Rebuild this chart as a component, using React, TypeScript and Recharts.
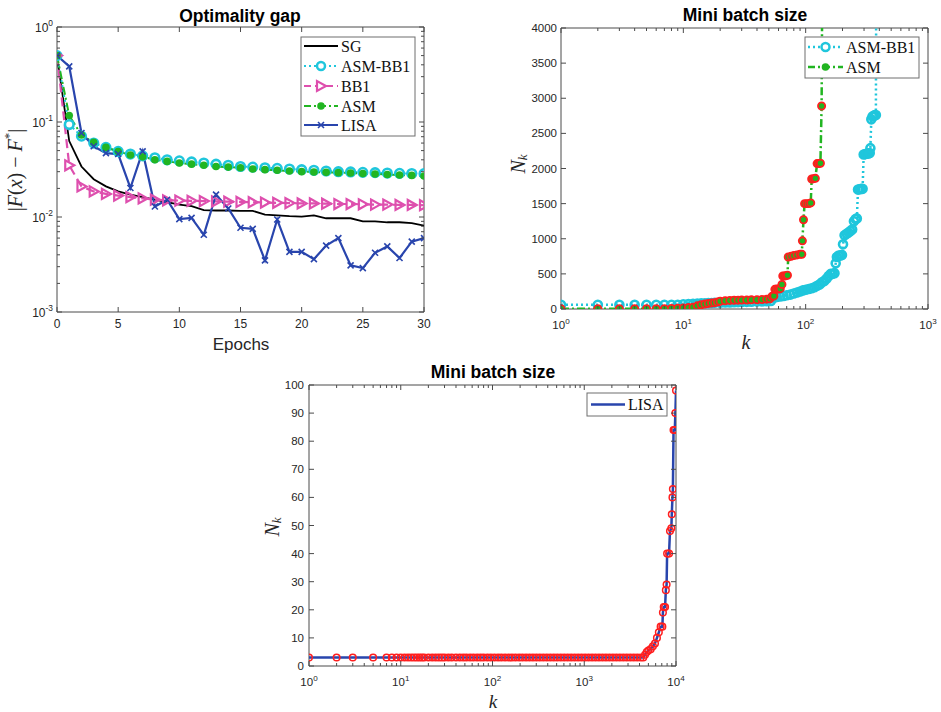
import React from 'react';
import { LineChart, Line, XAxis, YAxis, ReferenceArea } from 'recharts';

const SANS = '"Liberation Sans", Arial, Helvetica, sans-serif';
const SERIF = '"Liberation Serif", "Times New Roman", serif';
const AXIS = '#4a4a4a';
const TXT = '#262626';

const C_SG = '#000000';
const C_CYAN = '#1fc6dc';
const C_PINK = '#de4fae';
const C_GREEN = '#22b522';
const C_BLUE = '#2945ad';
const C_RED = '#ff1f1f';

// ---------- Panel 1: optimality gap ----------
const epochs = [0, 1, 2, 3, 4, 5, 6, 7, 8, 9, 10, 11, 12, 13, 14, 15, 16, 17, 18, 19, 20, 21, 22, 23, 24, 25, 26, 27, 28, 29, 30];
const sgGap = [0.49, 0.063, 0.034, 0.025, 0.021, 0.0186, 0.0172, 0.0162, 0.0152, 0.0143, 0.0135, 0.013, 0.0118, 0.0117, 0.0117, 0.0116, 0.0116, 0.0106, 0.0104, 0.0102, 0.0101, 0.0104, 0.0097, 0.0097, 0.0097, 0.009, 0.009, 0.0088, 0.0088, 0.0086, 0.0081];
const asmBb1Gap = [0.5, 0.094, 0.071, 0.06, 0.054, 0.049, 0.046, 0.044, 0.042, 0.04, 0.039, 0.038, 0.037, 0.036, 0.035, 0.034, 0.0335, 0.033, 0.0325, 0.032, 0.0315, 0.031, 0.0305, 0.03, 0.0298, 0.0295, 0.0293, 0.029, 0.0288, 0.0287, 0.0286];
const bb1Gap = [0.5, 0.035, 0.021, 0.0186, 0.0175, 0.0168, 0.0162, 0.0157, 0.0152, 0.015, 0.0149, 0.0148, 0.0147, 0.0146, 0.0145, 0.0144, 0.0143, 0.0142, 0.0141, 0.014, 0.0139, 0.0139, 0.0138, 0.0137, 0.0137, 0.0136, 0.0135, 0.0135, 0.0134, 0.0134, 0.0133];
const asmGap = [0.5, 0.117, 0.073, 0.061, 0.054, 0.049, 0.045, 0.043, 0.04, 0.0385, 0.037, 0.036, 0.035, 0.034, 0.0335, 0.033, 0.032, 0.0315, 0.031, 0.0305, 0.03, 0.0298, 0.0295, 0.0293, 0.029, 0.0287, 0.0284, 0.028, 0.0277, 0.0274, 0.027];
const lisaGap = [0.5, 0.385, 0.0766, 0.0555, 0.047, 0.046, 0.0202, 0.049, 0.0129, 0.0152, 0.0095, 0.0098, 0.0065, 0.0172, 0.0123, 0.0077, 0.0075, 0.0035, 0.0094, 0.0043, 0.0043, 0.0036, 0.005, 0.006, 0.0031, 0.0029, 0.0042, 0.0049, 0.0037, 0.0055, 0.006];
const epochTicks = [0, 5, 10, 15, 20, 25, 30];
const gapDecades = [0.001, 0.01, 0.1, 1];

// ---------- Panel 2: mini batch size (ASM-BB1, ASM) ----------
const bb1K = [1, 2, 3, 4, 5, 6, 7, 8, 9, 10, 11, 12, 13, 14, 15, 16, 17, 18, 20, 22, 24, 26, 28, 30, 33, 36, 40, 44, 48, 52, 55, 58, 62, 66, 70, 75, 80, 85, 90, 95, 100, 106, 112, 118, 124, 130, 136, 142, 148, 154, 160, 166, 172, 176, 180, 186, 192, 198, 202, 208, 216, 224, 232, 240, 248, 256, 262, 268, 276, 284, 292, 298, 306, 316, 326, 334, 338, 344, 352, 360, 368, 375, 378];
const bb1N = [60, 60, 60, 60, 60, 60, 60, 60, 60, 68, 72, 75, 78, 80, 82, 84, 86, 88, 90, 92, 94, 96, 98, 100, 102, 104, 106, 108, 110, 115, 160, 170, 178, 185, 195, 205, 220, 235, 250, 265, 275, 285, 295, 310, 330, 350, 380, 400, 430, 470, 500, 500, 510, 650, 740, 760, 760, 770, 920, 1050, 1070, 1090, 1110, 1130, 1250, 1280, 1290, 1700, 1705, 1710, 1710, 2200, 2205, 2210, 2215, 2220, 2290, 2700, 2740, 2750, 2760, 2760, 5000];
const asmK = [1, 2, 3, 4, 5, 6, 7, 8, 9, 10, 11, 12, 13, 14, 15, 16, 17, 18, 19, 20, 22, 24, 26, 28, 30, 33, 36, 40, 44, 48, 51, 53, 55, 56, 58, 60, 62, 64, 65, 67, 69, 71, 72, 76, 80, 85, 90, 93, 94, 96, 98, 102, 106, 110, 112, 116, 120, 124, 128, 132, 135, 137];
const asmN = [5, 5, 5, 5, 5, 5, 5, 8, 10, 15, 20, 25, 45, 60, 70, 80, 85, 90, 100, 110, 118, 122, 125, 126, 127, 128, 130, 132, 135, 140, 145, 180, 185, 280, 285, 285, 290, 350, 470, 470, 475, 480, 740, 750, 760, 770, 780, 780, 970, 1270, 1500, 1500, 1500, 1510, 1850, 1855, 1860, 2070, 2070, 2075, 2890, 5000];
const batchTicks = [0, 500, 1000, 1500, 2000, 2500, 3000, 3500, 4000];
const kDecades2 = [1, 10, 100, 1000];

// ---------- Panel 3: mini batch size (LISA) ----------
const lisaK = [1, 2, 3, 5, 7, 8, 9, 10, 11, 12, 13, 14, 15, 16, 17, 18, 20, 22, 24, 26, 28, 30, 33, 36, 40, 44, 48, 52, 57, 62, 68, 74, 80, 88, 96, 105, 115, 125, 137, 150, 163, 178, 195, 212, 232, 253, 276, 301, 328, 358, 391, 427, 466, 508, 555, 605, 660, 720, 786, 858, 936, 1021, 1114, 1216, 1327, 1448, 1580, 1724, 1881, 2053, 2240, 2444, 2667, 2910, 3175, 3465, 3781, 4126, 4400, 4600, 4800, 5000, 5300, 5600, 5900, 6200, 6500, 6800, 7100, 7200, 7350, 7600, 7750, 7900, 8000, 8400, 8600, 8900, 9000, 9150, 9250, 9400, 9700, 9850, 10000];
const lisaN = [3, 3, 3, 3, 3, 3, 3, 3, 3, 3, 3, 3, 3, 3, 3, 3, 3, 3, 3, 3, 3, 3, 3, 3, 3, 3, 3, 3, 3, 3, 3, 3, 3, 3, 3, 3, 3, 3, 3, 3, 3, 3, 3, 3, 3, 3, 3, 3, 3, 3, 3, 3, 3, 3, 3, 3, 3, 3, 3, 3, 3, 3, 3, 3, 3, 3, 3, 3, 3, 3, 3, 3, 3, 3, 3, 3, 3, 3, 3, 4, 5, 5.5, 6, 7, 8, 10, 12, 14, 14, 19, 21, 21, 27, 29, 40, 40, 48, 49, 54, 60, 63, 84, 84, 90, 98];
const lisaTicks = [0, 10, 20, 30, 40, 50, 60, 70, 80, 90, 100];
const kDecades3 = [1, 10, 100, 1000, 10000];

// ---------- helpers ----------
const withMinors = (decades: number[]) => {
  const out: number[] = [];
  for (let i = 0; i < decades.length - 1; i++) {
    for (let m = 1; m < 10; m++) out.push(decades[i] * m);
  }
  out.push(decades[decades.length - 1]);
  return out;
};
const isPow10 = (v: number) => v > 0 && Math.abs(Math.log10(v) - Math.round(Math.log10(v))) < 1e-6;

function Pow10Label({ x, y, v, fs, anchor }: any) {
  const e = Math.round(Math.log10(v));
  return (
    <text x={x} y={y} textAnchor={anchor} fontFamily={SANS} fontSize={fs} fill={TXT}>
      <tspan>10</tspan>
      <tspan dy={-fs * 0.45} fontSize={fs * 0.7}>{String(e)}</tspan>
    </text>
  );
}

const makeXTick = (o: { top: number; log: boolean; fs: number; dy: number }) => (p: any) => {
  const { x, y, payload } = p;
  const v = payload.value;
  const major = o.log ? isPow10(v) : true;
  const len = major ? 5 : 3;
  return (
    <g key={`xt-${v}`}>
      <line x1={x} x2={x} y1={y} y2={y - len} stroke={AXIS} strokeWidth={1} />
      <line x1={x} x2={x} y1={o.top} y2={o.top + len} stroke={AXIS} strokeWidth={1} />
      {major &&
        (o.log ? (
          <Pow10Label x={x} y={y + o.dy} v={v} fs={o.fs} anchor="middle" />
        ) : (
          <text x={x} y={y + o.dy} textAnchor="middle" fontFamily={SANS} fontSize={o.fs} fill={TXT}>
            {v}
          </text>
        ))}
    </g>
  );
};

const makeYTick = (o: { right: number; log: boolean; fs: number; dx: number; dy: number }) => (p: any) => {
  const { x, y, payload } = p;
  const v = payload.value;
  const major = o.log ? isPow10(v) : true;
  const len = major ? 5 : 3;
  return (
    <g key={`yt-${v}`}>
      <line x1={x} x2={x + len} y1={y} y2={y} stroke={AXIS} strokeWidth={1} />
      <line x1={o.right} x2={o.right - len} y1={y} y2={y} stroke={AXIS} strokeWidth={1} />
      {major &&
        (o.log ? (
          <Pow10Label x={x + o.dx} y={y + o.dy} v={v} fs={o.fs} anchor="end" />
        ) : (
          <text x={x + o.dx} y={y + o.dy} textAnchor="end" fontFamily={SANS} fontSize={o.fs} fill={TXT}>
            {v}
          </text>
        ))}
    </g>
  );
};

// markers
const circleDot = (stroke: string, r: number, sw: number, fill = 'none') => (p: any) =>
  p.cx == null || p.cy == null ? <g key={`e${p.index}`} /> : (
    <circle key={`c${p.index}`} cx={p.cx} cy={p.cy} r={r} fill={fill} stroke={stroke} strokeWidth={sw} />
  );
const triDot = (color: string) => (p: any) =>
  p.cx == null || p.cy == null ? <g key={`e${p.index}`} /> : (
    <polygon
      key={`t${p.index}`}
      points={`${p.cx - 4},${p.cy - 5} ${p.cx - 4},${p.cy + 5} ${p.cx + 5},${p.cy}`}
      fill="none"
      stroke={color}
      strokeWidth={2.2}
    />
  );
const xDot = (color: string) => (p: any) =>
  p.cx == null || p.cy == null ? <g key={`e${p.index}`} /> : (
    <path
      key={`x${p.index}`}
      d={`M${p.cx - 3},${p.cy - 3}L${p.cx + 3},${p.cy + 3}M${p.cx - 3},${p.cy + 3}L${p.cx + 3},${p.cy - 3}`}
      stroke={color}
      strokeWidth={1.6}
    />
  );

// ---------- data tables ----------
const gapData = epochs.map((e, i) => ({
  x: e,
  sg: sgGap[i],
  asmbb1: asmBb1Gap[i],
  bb1: bb1Gap[i],
  asm: asmGap[i],
  lisa: lisaGap[i],
}));
const bb1Data = bb1K.map((k, i) => ({ k, n: bb1N[i] }));
const asmData = asmK.map((k, i) => ({ k, n: asmN[i] }));
const lisaData = lisaK.map((k, i) => ({ k, n: lisaN[i] }));

// ---------- legend helper ----------
type LegItem = { label: string; color: string; dash?: string; sw: number; marker: string; y: number };
function Legend({ x, y, w, h, lx1, lx2, tx, items }: { x: number; y: number; w: number; h: number; lx1: number; lx2: number; tx: number; items: LegItem[] }) {
  const mx = (lx1 + lx2) / 2;
  return (
    <g>
      <rect x={x} y={y} width={w} height={h} fill="#fff" stroke="#6e6e6e" strokeWidth={1} />
      {items.map((it) => (
        <g key={it.label}>
          <line x1={lx1} x2={lx2} y1={it.y} y2={it.y} stroke={it.color} strokeWidth={it.sw} strokeDasharray={it.dash} />
          {it.marker === 'circleOpen' && <circle cx={mx} cy={it.y} r={4} fill="#fff" stroke={it.color} strokeWidth={2.5} />}
          {it.marker === 'circleFill' && <circle cx={mx} cy={it.y} r={3.8} fill={it.color} />}
          {it.marker === 'tri' && (
            <polygon points={`${mx - 4},${it.y - 5} ${mx - 4},${it.y + 5} ${mx + 5},${it.y}`} fill="#fff" stroke={it.color} strokeWidth={2.2} />
          )}
          {it.marker === 'x' && (
            <path d={`M${mx - 3},${it.y - 3}L${mx + 3},${it.y + 3}M${mx - 3},${it.y + 3}L${mx + 3},${it.y - 3}`} stroke={it.color} strokeWidth={1.6} />
          )}
          <text x={tx} y={it.y + 5.5} fontFamily={SERIF} fontSize={16} fill="#111">
            {it.label}
          </text>
        </g>
      ))}
    </g>
  );
}

const abs = (left: number, top: number): React.CSSProperties => ({ position: 'absolute', left, top });

export default function App() {
  const xTickA = makeXTick({ top: 27, log: false, fs: 12, dy: 16 });
  const yTickA = makeYTick({ right: 424, log: true, fs: 12, dx: -4, dy: 4.5 });
  const xTickB = makeXTick({ top: 28, log: true, fs: 11.5, dy: 20 });
  const yTickB = makeYTick({ right: 438, log: false, fs: 11.5, dx: -4, dy: 4 });
  const xTickC = makeXTick({ top: 15, log: true, fs: 11.5, dy: 20 });
  const yTickC = makeYTick({ right: 396, log: false, fs: 11.5, dx: -5, dy: 4 });

  return (
    <div style={{ position: 'absolute', left: 0, top: 0, width: 941, height: 712, background: '#fff', overflow: 'hidden' }}>
      {/* Panel 1 */}
      <div style={abs(0, 0)}>
        <LineChart width={441} height={345} data={gapData} margin={{ top: 27, right: 17, left: 0, bottom: 0 }}>
          <XAxis dataKey="x" type="number" domain={[0, 30]} ticks={epochTicks} interval={0} tickSize={0} tickMargin={0} axisLine={false} tickLine={false} tick={xTickA} height={33} allowDataOverflow />
          <YAxis type="number" scale="log" domain={[0.001, 1]} ticks={withMinors(gapDecades)} interval={0} tickSize={0} tickMargin={0} axisLine={false} tickLine={false} tick={yTickA} width={57} allowDataOverflow />
          <ReferenceArea x1={0} x2={30} y1={0.001} y2={1} fill="none" fillOpacity={0} stroke={AXIS} strokeWidth={1} ifOverflow="visible" />
          <Line dataKey="sg" type="linear" stroke={C_SG} strokeWidth={1.8} dot={false} activeDot={false} isAnimationActive={false} />
          <Line dataKey="asmbb1" type="linear" stroke={C_CYAN} strokeWidth={2} strokeDasharray="2 3" dot={circleDot(C_CYAN, 4.3, 2.6, '#fff')} activeDot={false} isAnimationActive={false} />
          <Line dataKey="bb1" type="linear" stroke={C_PINK} strokeWidth={2.2} strokeDasharray="9 5" dot={triDot(C_PINK)} activeDot={false} isAnimationActive={false} />
          <Line dataKey="asm" type="linear" stroke={C_GREEN} strokeWidth={2} strokeDasharray="8 3 2 3" dot={circleDot(C_GREEN, 3.8, 0, C_GREEN)} activeDot={false} isAnimationActive={false} />
          <Line dataKey="lisa" type="linear" stroke={C_BLUE} strokeWidth={2.2} dot={xDot(C_BLUE)} activeDot={false} isAnimationActive={false} />
        </LineChart>
      </div>

      {/* Panel 2 */}
      <div style={abs(490, 0)}>
        <LineChart width={451} height={345} margin={{ top: 28, right: 13, left: 0, bottom: 0 }}>
          <XAxis dataKey="k" type="number" scale="log" domain={[1, 1000]} ticks={withMinors(kDecades2)} interval={0} tickSize={0} tickMargin={0} axisLine={false} tickLine={false} tick={xTickB} height={36} allowDataOverflow />
          <YAxis type="number" domain={[0, 4000]} ticks={batchTicks} interval={0} tickSize={0} tickMargin={0} axisLine={false} tickLine={false} tick={yTickB} width={71} allowDataOverflow />
          <ReferenceArea x1={1} x2={1000} y1={0} y2={4000} fill="none" fillOpacity={0} stroke={AXIS} strokeWidth={1} ifOverflow="visible" />
          <Line data={bb1Data} dataKey="n" type="linear" stroke={C_CYAN} strokeWidth={2.5} strokeDasharray="2 3" dot={circleDot(C_CYAN, 4, 2.6, 'none')} activeDot={false} isAnimationActive={false} />
          <Line data={asmData} dataKey="n" type="linear" stroke={C_GREEN} strokeWidth={2.5} strokeDasharray="8 3 2 3" dot={circleDot(C_RED, 3.6, 1.8, C_GREEN)} activeDot={false} isAnimationActive={false} />
        </LineChart>
      </div>

      {/* Panel 3 */}
      <div style={abs(280, 370)}>
        <LineChart width={420} height={342} margin={{ top: 15, right: 24, left: 0, bottom: 0 }}>
          <XAxis dataKey="k" type="number" scale="log" domain={[1, 10000]} ticks={withMinors(kDecades3)} interval={0} tickSize={0} tickMargin={0} axisLine={false} tickLine={false} tick={xTickC} height={46} allowDataOverflow />
          <YAxis type="number" domain={[0, 100]} ticks={lisaTicks} interval={0} tickSize={0} tickMargin={0} axisLine={false} tickLine={false} tick={yTickC} width={29} allowDataOverflow />
          <ReferenceArea x1={1} x2={10000} y1={0} y2={100} fill="none" fillOpacity={0} stroke={AXIS} strokeWidth={1} ifOverflow="visible" />
          <Line data={lisaData} dataKey="n" type="linear" stroke={C_BLUE} strokeWidth={2.5} dot={circleDot(C_RED, 3.3, 1.5, 'none')} activeDot={false} isAnimationActive={false} />
        </LineChart>
      </div>

      {/* Overlay: titles, axis labels, legends */}
      <svg width={941} height={712} style={{ position: 'absolute', left: 0, top: 0, pointerEvents: 'none' }}>
        <text x={240} y={21.5} textAnchor="middle" fontFamily={SANS} fontWeight="bold" fontSize={17.5} fill="#000">Optimality gap</text>
        <text x={745} y={21} textAnchor="middle" fontFamily={SANS} fontWeight="bold" fontSize={17.5} fill="#000">Mini batch size</text>
        <text x={493} y={377.5} textAnchor="middle" fontFamily={SANS} fontWeight="bold" fontSize={17.5} fill="#000">Mini batch size</text>

        <text x={241} y={350} textAnchor="middle" fontFamily={SANS} fontSize={17} fill={TXT}>Epochs</text>
        <text x={746} y={349} textAnchor="middle" fontFamily={SERIF} fontStyle="italic" fontSize={20} fill={TXT}>k</text>
        <text x={493} y={708} textAnchor="middle" fontFamily={SERIF} fontStyle="italic" fontSize={19} fill={TXT}>k</text>

        <text x={15} y={170} transform="rotate(-90 15 170)" textAnchor="middle" dominantBaseline="central" fontFamily={SERIF} fontSize={20} fill={TXT}>
          <tspan>|</tspan>
          <tspan fontStyle="italic">F</tspan>
          <tspan>(</tspan>
          <tspan fontStyle="italic">x</tspan>
          <tspan>) − </tspan>
          <tspan fontStyle="italic">F</tspan>
          <tspan dy={-7} fontSize={13}>*</tspan>
          <tspan dy={7}>|</tspan>
        </text>
        <text x={518} y={164} transform="rotate(-90 518 164)" textAnchor="middle" dominantBaseline="central" fontFamily={SERIF} fontSize={20} fill={TXT}>
          <tspan fontStyle="italic">N</tspan>
          <tspan fontStyle="italic" fontSize={13} dy={4}>k</tspan>
        </text>
        <text x={272} y={527} transform="rotate(-90 272 527)" textAnchor="middle" dominantBaseline="central" fontFamily={SERIF} fontSize={20} fill={TXT}>
          <tspan fontStyle="italic">N</tspan>
          <tspan fontStyle="italic" fontSize={13} dy={4}>k</tspan>
        </text>

        <Legend
          x={301} y={37} w={114} h={99} lx1={304} lx2={338} tx={341}
          items={[
            { label: 'SG', color: C_SG, sw: 2, marker: 'none', y: 46 },
            { label: 'ASM-BB1', color: C_CYAN, sw: 2.2, dash: '2 3', marker: 'circleOpen', y: 66 },
            { label: 'BB1', color: C_PINK, sw: 2.2, dash: '7 4', marker: 'tri', y: 86 },
            { label: 'ASM', color: C_GREEN, sw: 2.2, dash: '7 3 2 3', marker: 'circleFill', y: 106 },
            { label: 'LISA', color: C_BLUE, sw: 2.2, marker: 'x', y: 125 },
          ]}
        />
        <Legend
          x={805} y={37} w={114} h={41} lx1={808} lx2={843} tx={846}
          items={[
            { label: 'ASM-BB1', color: C_CYAN, sw: 2.5, dash: '2 3', marker: 'circleOpen', y: 47 },
            { label: 'ASM', color: C_GREEN, sw: 2.5, dash: '7 3 2 3', marker: 'circleFill', y: 67 },
          ]}
        />
        <Legend
          x={587} y={393} w={80} h={23} lx1={591} lx2={625} tx={628}
          items={[{ label: 'LISA', color: C_BLUE, sw: 2.5, marker: 'none', y: 404.5 }]}
        />
      </svg>
    </div>
  );
}
